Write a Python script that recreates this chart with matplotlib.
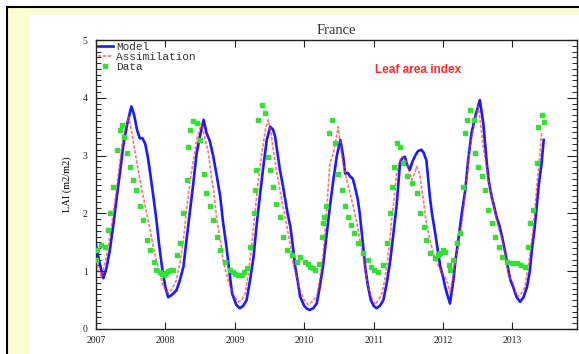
#!/usr/bin/env python3
"""LAI time series for France: model, assimilation and observed data."""

import matplotlib
import matplotlib.pyplot as plt
from matplotlib.patches import Rectangle
from matplotlib.ticker import MultipleLocator

matplotlib.use("Agg")

FIG_W_PX = 579
FIG_H_PX = 354
DPI = 100

YEARS = [2007, 2008, 2009, 2010, 2011, 2012, 2013]

model_t = [
    2007.00, 2007.05, 2007.105, 2007.15, 2007.20, 2007.25, 2007.30, 2007.35, 2007.39, 2007.45,
    2007.51, 2007.55, 2007.59, 2007.63, 2007.67, 2007.71, 2007.75, 2007.78, 2007.82, 2007.87,
    2007.91, 2007.95, 2008.00, 2008.04, 2008.08, 2008.12, 2008.16, 2008.21, 2008.26, 2008.30,
    2008.35, 2008.40, 2008.45, 2008.50, 2008.55, 2008.59, 2008.64, 2008.69, 2008.74, 2008.79,
    2008.83, 2008.88, 2008.92, 2008.96, 2009.02, 2009.07, 2009.12, 2009.17, 2009.22, 2009.27,
    2009.31, 2009.36, 2009.41, 2009.46, 2009.51, 2009.55, 2009.58, 2009.62, 2009.65, 2009.69,
    2009.72, 2009.76, 2009.80, 2009.84, 2009.87, 2009.91, 2009.94, 2010.00, 2010.04, 2010.08,
    2010.13, 2010.18, 2010.22, 2010.27, 2010.32, 2010.37, 2010.42, 2010.47, 2010.52, 2010.56,
    2010.59, 2010.63, 2010.66, 2010.70, 2010.73, 2010.77, 2010.80, 2010.85, 2010.88, 2010.92,
    2010.96, 2011.00, 2011.04, 2011.09, 2011.14, 2011.19, 2011.24, 2011.28, 2011.33, 2011.38,
    2011.41, 2011.45, 2011.48, 2011.52, 2011.56, 2011.60, 2011.64, 2011.69, 2011.72, 2011.76,
    2011.81, 2011.84, 2011.88, 2011.92, 2011.96, 2012.00, 2012.03, 2012.06, 2012.10, 2012.15,
    2012.18, 2012.22, 2012.27, 2012.32, 2012.36, 2012.41, 2012.47, 2012.53, 2012.58, 2012.63,
    2012.66, 2012.70, 2012.74, 2012.77, 2012.81, 2012.85, 2012.90, 2012.94, 2012.97, 2013.01,
    2013.06, 2013.11, 2013.16, 2013.21, 2013.25, 2013.28, 2013.32, 2013.35, 2013.38, 2013.42,
    2013.45,
]
model_v = [
    1.45, 1.15, 0.88, 1.05, 1.37, 1.80, 2.29, 2.75, 3.15, 3.55,
    3.85, 3.70, 3.45, 3.30, 3.30, 3.20, 2.95, 2.70, 2.35, 1.89,
    1.45, 1.08, 0.72, 0.55, 0.58, 0.62, 0.67, 0.85, 1.08, 1.50,
    2.00, 2.50, 3.04, 3.35, 3.62, 3.40, 3.25, 2.98, 2.65, 2.29,
    1.85, 1.42, 1.00, 0.62, 0.42, 0.36, 0.40, 0.50, 0.85, 1.25,
    1.75, 2.29, 2.80, 3.27, 3.50, 3.45, 3.33, 3.00, 2.75, 2.50,
    2.29, 2.00, 1.77, 1.40, 1.08, 0.80, 0.56, 0.40, 0.35, 0.33,
    0.36, 0.44, 0.70, 1.08, 1.60, 2.12, 2.58, 3.00, 3.27, 3.00,
    2.69, 2.70, 2.64, 2.60, 2.46, 2.25, 2.00, 1.42, 1.05, 0.73,
    0.50, 0.40, 0.36, 0.40, 0.50, 0.80, 1.19, 1.60, 2.12, 2.87,
    2.95, 2.98, 2.85, 2.75, 2.90, 3.00, 3.08, 3.10, 3.05, 2.92,
    2.29, 2.00, 1.71, 1.40, 1.08, 0.90, 0.73, 0.60, 0.44, 0.85,
    1.20, 1.54, 2.00, 2.40, 2.90, 3.39, 3.70, 3.96, 3.56, 2.87,
    2.55, 2.29, 2.10, 1.94, 1.80, 1.60, 1.30, 1.02, 0.85, 0.73,
    0.55, 0.47, 0.55, 0.73, 1.00, 1.37, 1.75, 2.12, 2.50, 2.87,
    3.27,
]

assim_t = [
    2007.00, 2007.04, 2007.08, 2007.14, 2007.20, 2007.25, 2007.30, 2007.35, 2007.39, 2007.43,
    2007.47, 2007.51, 2007.55, 2007.59, 2007.63, 2007.68, 2007.73, 2007.78, 2007.82, 2007.87,
    2007.92, 2007.97, 2008.04, 2008.10, 2008.16, 2008.21, 2008.26, 2008.30, 2008.35, 2008.40,
    2008.45, 2008.52, 2008.57, 2008.62, 2008.66, 2008.70, 2008.74, 2008.79, 2008.83, 2008.88,
    2008.93, 2009.00, 2009.05, 2009.10, 2009.15, 2009.20, 2009.24, 2009.29, 2009.34, 2009.39,
    2009.44, 2009.48, 2009.52, 2009.55, 2009.60, 2009.65, 2009.70, 2009.75, 2009.80, 2009.84,
    2009.89, 2009.94, 2010.00, 2010.06, 2010.12, 2010.18, 2010.23, 2010.27, 2010.32, 2010.37,
    2010.42, 2010.46, 2010.49, 2010.53, 2010.56, 2010.61, 2010.66, 2010.71, 2010.76, 2010.80,
    2010.85, 2010.88, 2010.92, 2010.97, 2011.02, 2011.07, 2011.12, 2011.16, 2011.19, 2011.23,
    2011.26, 2011.30, 2011.33, 2011.37, 2011.40, 2011.44, 2011.48, 2011.52, 2011.55, 2011.59,
    2011.62, 2011.66, 2011.69, 2011.72, 2011.76, 2011.81, 2011.86, 2011.91, 2011.96, 2012.00,
    2012.03, 2012.07, 2012.10, 2012.15, 2012.20, 2012.25, 2012.29, 2012.34, 2012.39, 2012.45,
    2012.51, 2012.55, 2012.58, 2012.62, 2012.65, 2012.70, 2012.75, 2012.80, 2012.85, 2012.90,
    2012.94, 2012.98, 2013.01, 2013.04, 2013.08, 2013.13, 2013.18, 2013.23, 2013.28, 2013.32,
    2013.35, 2013.39, 2013.42,
]
assim_v = [
    1.20, 1.00, 0.90, 1.20, 1.60, 2.00, 2.46, 2.95, 3.33, 3.50,
    3.67, 3.44, 3.15, 2.87, 2.60, 2.29, 2.00, 1.71, 1.45, 1.19,
    0.95, 0.73, 0.62, 0.70, 0.85, 1.15, 1.54, 2.00, 2.52, 2.90,
    3.27, 3.56, 3.30, 3.04, 2.65, 2.35, 1.89, 1.55, 1.19, 0.95,
    0.73, 0.55, 0.47, 0.50, 0.62, 1.00, 1.42, 2.00, 2.58, 3.05,
    3.44, 3.62, 3.40, 3.15, 2.75, 2.40, 2.10, 1.77, 1.45, 1.14,
    0.90, 0.67, 0.50, 0.42, 0.48, 0.56, 0.90, 1.25, 2.00, 2.87,
    3.04, 3.30, 3.50, 3.10, 2.87, 2.60, 2.35, 2.10, 1.83, 1.55,
    1.25, 1.00, 0.73, 0.55, 0.42, 0.50, 0.62, 0.85, 1.08, 1.50,
    1.89, 2.30, 2.69, 2.90, 2.98, 2.95, 2.87, 2.70, 2.58, 2.70,
    2.81, 2.70, 2.46, 2.20, 1.83, 1.55, 1.31, 1.15, 1.02, 0.95,
    0.90, 0.78, 0.62, 0.95, 1.31, 1.65, 2.00, 2.60, 3.15, 3.55,
    3.85, 3.45, 3.15, 2.85, 2.58, 2.30, 2.00, 1.75, 1.54, 1.25,
    0.96, 0.85, 0.79, 0.65, 0.56, 0.62, 0.73, 1.10, 1.54, 2.00,
    2.46, 2.95, 3.39,
]

data_t = [
    2007.00, 2007.02, 2007.07, 2007.13, 2007.18, 2007.20, 2007.25, 2007.30, 2007.35, 2007.37,
    2007.40, 2007.44, 2007.49, 2007.54, 2007.58, 2007.63, 2007.68, 2007.73, 2007.78, 2007.83,
    2007.87, 2007.92, 2007.95, 2007.98, 2008.01, 2008.04, 2008.08, 2008.11, 2008.16, 2008.21,
    2008.26, 2008.31, 2008.33, 2008.35, 2008.40, 2008.45, 2008.50, 2008.55, 2008.59, 2008.64,
    2008.69, 2008.74, 2008.79, 2008.86, 2008.93, 2008.97, 2009.00, 2009.05, 2009.10, 2009.13,
    2009.17, 2009.22, 2009.27, 2009.29, 2009.31, 2009.34, 2009.39, 2009.44, 2009.48, 2009.51,
    2009.55, 2009.60, 2009.65, 2009.70, 2009.75, 2009.82, 2009.89, 2009.94, 2010.01, 2010.05,
    2010.08, 2010.12, 2010.15, 2010.22, 2010.25, 2010.27, 2010.29, 2010.32, 2010.35, 2010.40,
    2010.44, 2010.49, 2010.54, 2010.59, 2010.63, 2010.67, 2010.71, 2010.78, 2010.85, 2010.92,
    2010.96, 2011.00, 2011.07, 2011.14, 2011.19, 2011.24, 2011.26, 2011.29, 2011.33, 2011.38,
    2011.43, 2011.48, 2011.55, 2011.62, 2011.67, 2011.72, 2011.76, 2011.81, 2011.88, 2011.93,
    2011.96, 2012.00, 2012.03, 2012.08, 2012.10, 2012.15, 2012.20, 2012.25, 2012.29, 2012.32,
    2012.34, 2012.39, 2012.44, 2012.46, 2012.51, 2012.56, 2012.61, 2012.65, 2012.70, 2012.75,
    2012.80, 2012.85, 2012.92, 2012.99, 2013.06, 2013.13, 2013.18, 2013.23, 2013.25, 2013.30,
    2013.35, 2013.37, 2013.42, 2013.46,
]
data_v = [
    1.19, 1.37, 1.45, 1.42, 1.71, 2.00, 2.46, 3.10, 3.44, 3.53,
    3.33, 3.04, 2.81, 2.58, 2.40, 2.12, 1.89, 1.54, 1.37, 1.16,
    1.02, 0.98, 0.96, 0.94, 0.97, 1.00, 1.02, 1.02, 1.28, 1.48,
    2.00, 2.58, 3.15, 3.44, 3.59, 3.56, 3.27, 2.69, 2.35, 2.12,
    1.89, 1.60, 1.37, 1.16, 1.02, 0.98, 0.96, 0.94, 0.93, 0.98,
    1.05, 1.42, 2.00, 2.40, 2.75, 3.62, 3.88, 3.73, 2.98, 2.75,
    2.46, 2.17, 1.94, 1.60, 1.37, 1.28, 1.16, 1.25, 1.16, 1.12,
    1.08, 1.05, 1.02, 1.13, 1.60, 1.83, 1.94, 2.12, 3.39, 3.62,
    3.21, 2.69, 2.40, 2.12, 1.94, 1.80, 1.66, 1.48, 1.31, 1.19,
    1.08, 1.02, 0.99, 1.11, 1.48, 2.00, 2.46, 2.81, 3.21, 3.15,
    2.87, 2.64, 2.52, 2.35, 2.00, 1.77, 1.54, 1.31, 1.22, 1.28,
    1.31, 1.37, 1.34, 1.11, 1.02, 1.19, 1.48, 1.66, 2.46, 3.39,
    3.62, 3.79, 3.62, 3.04, 2.81, 2.64, 2.40, 2.06, 1.83, 1.60,
    1.42, 1.25, 1.16, 1.14, 1.14, 1.11, 1.08, 1.42, 1.83, 2.06,
    2.87, 3.50, 3.70, 3.58,
]

SERIF = ["Liberation Serif", "DejaVu Serif"]
MONO = ["Liberation Mono", "DejaVu Sans Mono"]


def draw_frame(fig):
    # screenshot framing: black rule, pale yellow border, white panel
    px_x = 1.0 / FIG_W_PX
    px_y = 1.0 / FIG_H_PX
    left = 7.5 * px_x
    top = 1 - 7 * px_y
    fig.patches.append(Rectangle((left, 0), 1 - left, top, transform=fig.transFigure,
                                 facecolor="#fdfbd2", edgecolor="none", zorder=-3))
    fig.patches.append(Rectangle((30 * px_x, 0), 1, 1 - 15 * px_y, transform=fig.transFigure,
                                 facecolor="white", edgecolor="none", zorder=-2))
    fig.lines.append(plt.Line2D([left, left], [0, top], transform=fig.transFigure,
                                color="black", lw=1.5))
    fig.lines.append(plt.Line2D([left, 1], [top, top], transform=fig.transFigure,
                                color="black", lw=1.5))


def main():
    fig = plt.figure(figsize=(FIG_W_PX / DPI, FIG_H_PX / DPI), dpi=DPI)
    fig.patch.set_facecolor("white")
    draw_frame(fig)

    ax = fig.add_axes([96 / FIG_W_PX, 1 - 329 / FIG_H_PX,
                       481 / FIG_W_PX, 289 / FIG_H_PX])
    ax.set_facecolor("white")

    ax.plot(model_t, model_v, color="#1a1aff", lw=1.9, label="Model", zorder=3)
    ax.plot(assim_t, assim_v, color="#ff3a3a", lw=1.2, ls=(0, (2, 1)),
            alpha=0.7, label="Assimilation", zorder=4)
    ax.plot(data_t, data_v, ls="none", marker="s", ms=3.3, color="#33e033",
            mec="#33e033", label="Data", zorder=5)

    ax.set_xlim(2007, 2013.93)
    ax.set_ylim(0, 5)
    ax.set_xticks(YEARS)
    ax.set_xticklabels([str(y) for y in YEARS], family=SERIF, fontsize=7)
    ax.set_yticks(range(6))
    ax.set_yticklabels([str(v) for v in range(6)], family=SERIF, fontsize=7)
    ax.yaxis.set_minor_locator(MultipleLocator(0.1))

    ax.tick_params(axis="x", which="major", direction="in", length=5, width=0.8,
                   top=True, pad=5, colors="#222222")
    ax.tick_params(axis="y", which="major", direction="in", length=7, width=0.8,
                   right=True, pad=6, colors="#222222")
    ax.tick_params(axis="y", which="minor", direction="in", length=3.5, width=0.6,
                   right=True)
    for side in ax.spines.values():
        side.set_linewidth(1.0)
        side.set_color("#222222")

    ax.set_ylabel("LAI (m2/m2)", family=SERIF, fontsize=7.5, labelpad=8)
    ax.set_title("France", family=SERIF, fontsize=10.5, color="#333333", pad=4)

    ax.text(0.669, 0.895, "Leaf area index", transform=ax.transAxes,
            ha="center", va="center", fontsize=8.5, fontweight="bold",
            color="#ff2a2a", family=["Liberation Sans", "DejaVu Sans"])

    leg = ax.legend(loc="upper left", frameon=False,
                    prop={"family": MONO, "size": 8},
                    handlelength=1.3, handletextpad=0.3, labelspacing=0.0,
                    borderaxespad=0.0, borderpad=0.2, markerscale=1.0)
    for txt in leg.get_texts():
        txt.set_color("#333333")

    fig.savefig("out.png", dpi=DPI, facecolor="white")
    plt.close(fig)


if __name__ == "__main__":
    main()
